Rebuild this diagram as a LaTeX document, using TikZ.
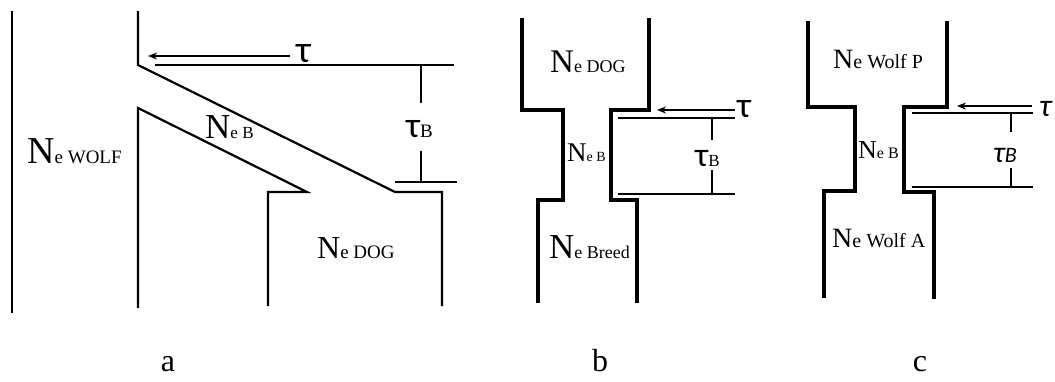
\documentclass[tikz,border=0pt]{standalone}
\usepackage{fontspec}
\setmainfont{Liberation Serif}
\newfontfamily\taufont{Carlito}
\usetikzlibrary{arrows.meta}
\newcommand{\fs}[1]{\fontsize{#1bp}{#1bp}\selectfont}
\newcommand{\NeLab}[3]{{\fs{#1}N}{\fs{#2}e #3}}
\begin{document}
\begin{tikzpicture}[x=1bp,y=-1bp,
  wallA/.style={line width=2.2bp, line join=miter},
  wallB/.style={line width=3.6bp, line join=miter},
  thinline/.style={line width=1.8bp},
  dimline/.style={line width=1.2bp},
  arr/.style={line width=1.6bp,-{Stealth[length=9bp,width=7bp]}},
  lab/.style={inner sep=0pt, anchor=base west},
  captionlbl/.style={inner sep=0pt, anchor=base, font=\fs{32}},
]
\useasboundingbox (0,0) rectangle (1055,381);

% ---------- panel a ----------
\draw[wallA] (12,11) -- (12,313);
\draw[wallA] (138,11) -- (138,65) -- (395,192) -- (442,192) -- (442,306);
\draw[wallA] (138,308) -- (138,108) -- (307,192) -- (268,192) -- (268,306);
\draw[thinline] (155,65) -- (454,65);
\draw[thinline] (395,182) -- (457,182);
\coordinate (aArrS) at (290,56);
\coordinate (aArrE) at (148,56);
\draw[arr] (aArrS) -- (aArrE);
\node[lab] (aTau) at (296,62) {\taufont\fs{38}τ};
\node[lab] (aTauB) at (406,137) {{\taufont\fs{36}τ}{\fs{19}B}};
\coordinate (aD1) at (421,65); \coordinate (aD2) at (421,103);
\coordinate (aD3) at (421,151); \coordinate (aD4) at (421,182);
\draw[dimline] (aD1) -- (aD2);
\draw[dimline] (aD3) -- (aD4);
\node[lab] (aWolf) at (27,163) {\NeLab{38}{19}{WOLF}};
\node[lab] (aB) at (205,138) {\NeLab{35}{17}{B}};
\node[lab] (aDog) at (317,258) {\NeLab{32}{19}{DOG}};
\node[captionlbl] (capA) at (168,371) {a};

% ---------- panel b ----------
\draw[wallB] (522,18) -- (522,110) -- (563,110) -- (563,200) -- (538,200) -- (538,303);
\draw[wallB] (649,18) -- (649,110) -- (611,110) -- (611,200) -- (637,200) -- (637,303);
\coordinate (bArrS) at (735,110);
\coordinate (bArrE) at (657,110);
\draw[arr] (bArrS) -- (bArrE);
\draw[thinline] (618,118) -- (735,118);
\draw[thinline] (618,194) -- (735,194);
\coordinate (bD1) at (712,118); \coordinate (bD2) at (712,140);
\coordinate (bD3) at (712,170); \coordinate (bD4) at (712,194);
\draw[dimline] (bD1) -- (bD2);
\draw[dimline] (bD3) -- (bD4);
\node[lab] (bTau) at (737,117) {\taufont\fs{36}τ};
\node[lab] (bTauB) at (695,166) {{\taufont\fs{34}τ}{\fs{17}B}};
\node[lab] (bDog) at (550,72) {\NeLab{33}{18}{DOG}};
\node[lab] (bB) at (567,161) {\NeLab{27}{14}{B}};
\node[lab] (bBreed) at (549,258) {\NeLab{35}{18}{Breed}};
\node[captionlbl] (capB) at (600,371) {b};

% ---------- panel c ----------
\draw[wallB] (808,21) -- (808,107) -- (855,107) -- (855,191) -- (824,191) -- (824,298);
\draw[wallB] (947,21) -- (947,107) -- (904,107) -- (904,192) -- (934,192) -- (934,299);
\coordinate (cArrS) at (1032,106);
\coordinate (cArrE) at (957,106);
\draw[arr] (cArrS) -- (cArrE);
\draw[thinline] (912,113) -- (1033,113);
\draw[thinline] (912,187) -- (1033,187);
\coordinate (cD1) at (1011,113); \coordinate (cD2) at (1011,132);
\coordinate (cD3) at (1011,168); \coordinate (cD4) at (1011,187);
\draw[dimline] (cD1) -- (cD2);
\draw[dimline] (cD3) -- (cD4);
\node[lab] (cTau) at (1039,116) {\taufont\itshape\fs{32}τ};
\node[lab] (cTauB) at (993,162) {{\taufont\itshape\fs{30}τ}{\taufont\itshape\fs{22}B}};
\node[lab] (cWolfP) at (833,68) {\NeLab{28}{20}{Wolf P}};
\node[lab] (cB) at (858,158) {\NeLab{26}{16}{B}};
\node[lab] (cWolfA) at (832,247) {\NeLab{28}{20}{Wolf A}};
\node[captionlbl] (capC) at (920,371) {c};
\end{tikzpicture}
\end{document}
